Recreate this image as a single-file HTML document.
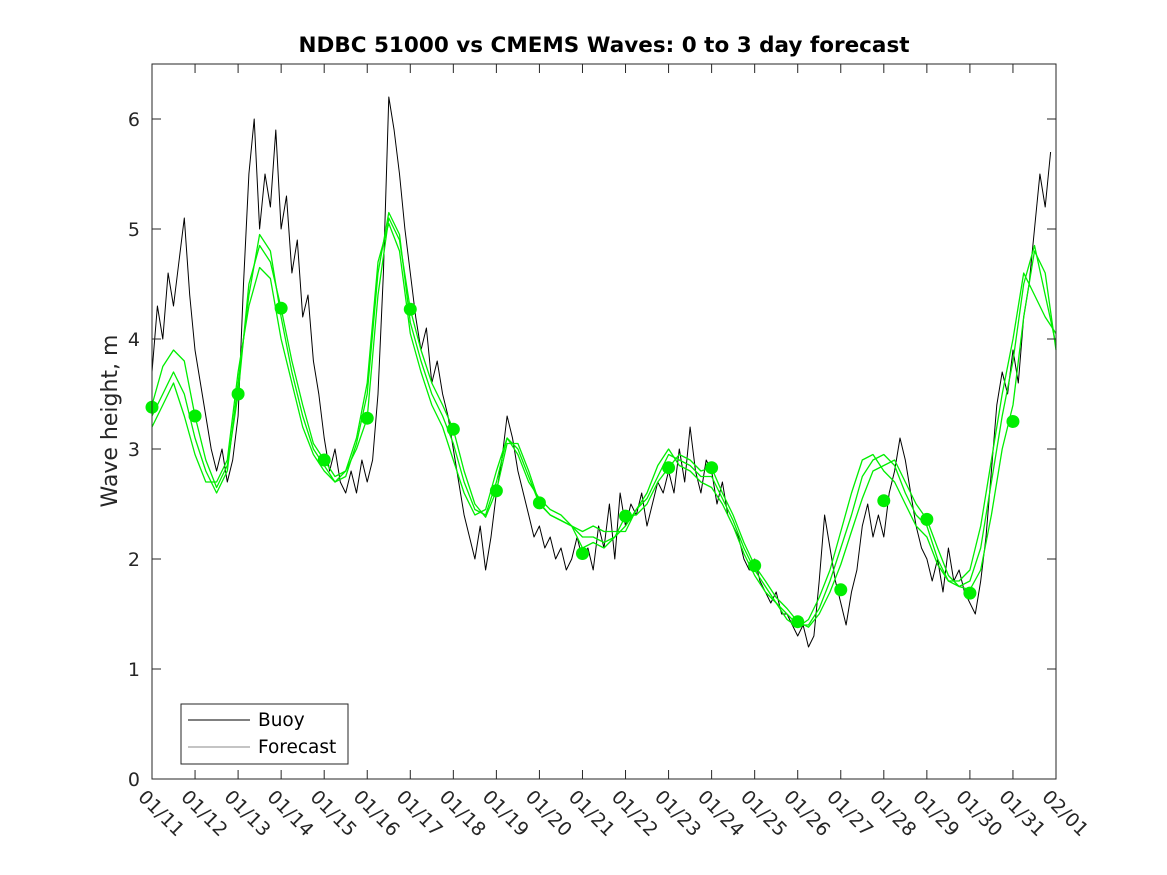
<!DOCTYPE html>
<html><head><meta charset="utf-8"><style>
html,body{margin:0;padding:0;background:#fff;}
svg{display:block;font-family:"DejaVu Sans","Liberation Sans",sans-serif;}
</style></head><body>
<svg id="chart" width="1167" height="875" viewBox="0 0 1167 875" xmlns="http://www.w3.org/2000/svg">
<rect x="152" y="64" width="904" height="715" fill="#fff" stroke="none"/>
<g id="series"></g>
<rect x="152" y="64" width="904" height="715" fill="none" stroke="#262626" stroke-width="1"/>
<text x="604" y="52" text-anchor="middle" font-size="21.5" font-weight="bold" fill="#000">NDBC 51000 vs CMEMS Waves: 0 to 3 day forecast</text>
<text transform="translate(117,421) rotate(-90)" text-anchor="middle" font-size="22" fill="#262626">Wave height, m</text>
<g id="axes"></g>
<g>
<rect x="181" y="704" width="167" height="60" fill="#fff" stroke="#262626" stroke-width="1"/>
<line x1="188" y1="720" x2="250" y2="720" stroke="#000" stroke-width="1"/>
<text x="258" y="726" font-size="18.5" fill="#000">Buoy</text>
<line x1="188" y1="747" x2="250" y2="747" stroke="#8a8a8a" stroke-width="1"/>
<text x="258" y="753" font-size="18.5" fill="#000">Forecast</text>
</g>
</svg>
<script>
const xTickLabels = ["01/11","01/12","01/13","01/14","01/15","01/16","01/17","01/18","01/19","01/20","01/21","01/22","01/23","01/24","01/25","01/26","01/27","01/28","01/29","01/30","01/31","02/01"];
const yTicks = [0,1,2,3,4,5,6];
const buoy = [
3.7,4.3,4.0,4.6,4.3,4.7,5.1,4.4,
3.9,3.6,3.3,3.0,2.8,3.0,2.7,2.9,
3.3,4.5,5.5,6.0,5.0,5.5,5.2,5.9,
5.0,5.3,4.6,4.9,4.2,4.4,3.8,3.5,
3.1,2.8,3.0,2.7,2.6,2.8,2.6,2.9,
2.7,2.9,3.5,4.6,6.2,5.9,5.5,5.0,
4.6,4.2,3.9,4.1,3.6,3.8,3.5,3.3,
3.0,2.7,2.4,2.2,2.0,2.3,1.9,2.2,
2.6,2.9,3.3,3.1,2.8,2.6,2.4,2.2,
2.3,2.1,2.2,2.0,2.1,1.9,2.0,2.2,
2.0,2.1,1.9,2.3,2.1,2.5,2.0,2.6,
2.3,2.5,2.4,2.6,2.3,2.5,2.7,2.6,
2.8,2.6,3.0,2.7,3.2,2.8,2.6,2.9,
2.8,2.5,2.7,2.4,2.3,2.2,2.0,1.9,
2.0,1.8,1.7,1.6,1.7,1.5,1.5,1.4,
1.3,1.4,1.2,1.3,1.8,2.4,2.1,1.8,
1.6,1.4,1.7,1.9,2.3,2.5,2.2,2.4,
2.2,2.6,2.8,3.1,2.9,2.6,2.3,2.1,
2.0,1.8,2.0,1.7,2.1,1.8,1.9,1.7,
1.6,1.5,1.8,2.2,2.8,3.4,3.7,3.5,
3.9,3.6,4.2,4.5,5.0,5.5,5.2,5.7];
const forecastA = [3.4,3.75,3.9,3.8, 3.3,2.9,2.65,2.85, 3.5,4.5,4.85,4.7, 4.28,3.8,3.4,3.05, 2.9,2.75,2.8,3.0, 3.28,4.4,5.1,4.9, 4.27,3.9,3.6,3.4, 3.18,2.8,2.5,2.38, 2.62,3.05,3.05,2.8, 2.51,2.4,2.35,2.3, 2.1,2.15,2.1,2.2, 2.39,2.4,2.5,2.7, 2.83,2.95,2.9,2.8, 2.83,2.6,2.4,2.15, 1.94,1.8,1.65,1.55, 1.43,1.38,1.5,1.7, 1.95,2.25,2.55,2.8, 2.85,2.9,2.7,2.5, 2.36,2.1,1.85,1.75, 1.72,1.9,2.4,3.0, 3.4,4.2,4.8,4.6, 3.9];
const forecastB = [3.3,3.5,3.7,3.5, 3.1,2.8,2.6,2.8, 3.6,4.4,4.95,4.8, 4.2,3.7,3.3,3.0, 2.85,2.7,2.75,3.05, 3.5,4.6,5.15,4.95, 4.15,3.8,3.5,3.3, 3.05,2.7,2.45,2.4, 2.7,3.1,3.0,2.75, 2.5,2.4,2.35,2.3, 2.2,2.2,2.15,2.2, 2.3,2.45,2.55,2.75, 2.95,2.9,2.85,2.75, 2.75,2.55,2.35,2.1, 1.9,1.75,1.6,1.5, 1.4,1.4,1.55,1.8, 2.1,2.4,2.75,2.9, 2.95,2.85,2.6,2.4, 2.3,2.0,1.8,1.75, 1.8,2.1,2.7,3.3, 3.8,4.5,4.85,4.4, 3.95];
const forecastC = [3.2,3.4,3.6,3.3, 2.95,2.7,2.7,2.9, 3.7,4.3,4.65,4.55, 4.0,3.6,3.2,2.95, 2.8,2.7,2.8,3.1, 3.6,4.7,5.05,4.8, 4.05,3.7,3.4,3.2, 2.9,2.6,2.4,2.45, 2.8,3.1,2.95,2.7, 2.55,2.45,2.4,2.3, 2.25,2.3,2.25,2.25, 2.25,2.45,2.6,2.85, 3.0,2.85,2.8,2.7, 2.65,2.5,2.3,2.05, 1.85,1.7,1.6,1.45, 1.38,1.45,1.65,1.9, 2.25,2.6,2.9,2.95, 2.8,2.7,2.5,2.3, 2.2,1.95,1.8,1.8, 1.9,2.3,2.9,3.5, 4.0,4.6,4.4,4.2, 4.05];
const dotValues = [3.38,3.3,3.5,4.28,2.9,3.28,4.27,3.18,2.62,2.51,2.05,2.39,2.83,2.83,1.94,1.43,1.72,2.53,2.36,1.69,3.25];

const NS="http://www.w3.org/2000/svg";
const X0=152,X1=1056,Y0=779,Y1=64,NDAYS=21,YMAX=6.5;
function xs(d){return X0+(X1-X0)*d/NDAYS;}
function ys(v){return Y0-(Y0-Y1)*v/YMAX;}
function mk(tag,attrs,parent){const e=document.createElementNS(NS,tag);for(const k in attrs)e.setAttribute(k,attrs[k]);parent.appendChild(e);return e;}
const axes=document.getElementById('axes'),series=document.getElementById('series');

xTickLabels.forEach((lab,i)=>{
  const x=xs(i);
  const t1=mk('line',{x1:x,y1:Y0,x2:x,y2:Y0-9,stroke:'#262626'},axes);
  
  
  const t2=mk('line',{x1:x,y1:Y1,x2:x,y2:Y1+9,stroke:'#262626'},axes);
  
  
  const tx=mk('text',{transform:`translate(${x-15},${Y0+19}) rotate(45)`,'font-size':'19','letter-spacing':'0.3',fill:'#262626'},axes);
  tx.textContent=lab;
  
  
});
yTicks.forEach(v=>{
  const y=ys(v);
  const t1=mk('line',{x1:X0,y1:y,x2:X0+9,y2:y,stroke:'#262626'},axes);
  
  
  const t2=mk('line',{x1:X1,y1:y,x2:X1-9,y2:y,stroke:'#262626'},axes);
  
  
  const tx=mk('text',{x:X0-12,y:y+7,'text-anchor':'end','font-size':'19',fill:'#262626'},axes);
  tx.textContent=v;
  
  
});

function path(vals,step,color,w,name){
  let d='';
  vals.forEach((v,i)=>{d+=(i?'L':'M')+xs(i*step).toFixed(1)+','+ys(v).toFixed(1);});
  const p=mk('path',{d:d,fill:'none',stroke:color,'stroke-width':w,'stroke-linejoin':'round'},series);
  
  
}
path(buoy,1/8,'#000',1,'buoy-line');
path(forecastA,1/4,'#00ee00',1.3,'forecast-line-a');
path(forecastB,1/4,'#00ee00',1.3,'forecast-line-b');
path(forecastC,1/4,'#00ee00',1.3,'forecast-line-c');
dotValues.forEach((v,i)=>{
  const c=mk('circle',{cx:xs(i),cy:ys(v),r:6.5,fill:'#00ee00'},series);
  
  
});
</script>
</body></html>
